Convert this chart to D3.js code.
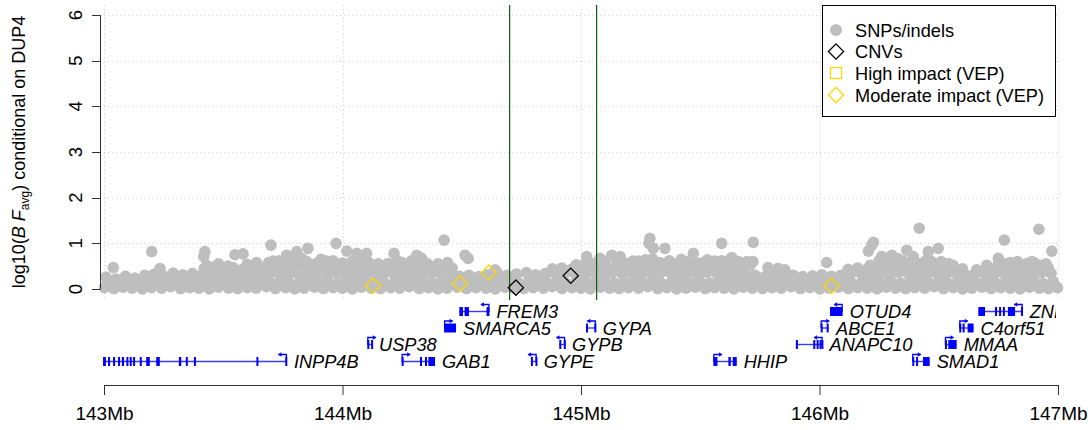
<!DOCTYPE html>
<html>
<head>
<meta charset="utf-8">
<script src="https://cdn.jsdelivr.net/npm/d3@7"></script>
<style>
  html, body { margin: 0; padding: 0; background: #fff; }
  svg { display: block; font-family: "Liberation Sans", Arial, Helvetica, sans-serif; }
</style>
</head>
<body>
<svg id="chart" width="1088" height="430"></svg>
<script>
// ---- Data -------------------------------------------------------------
// x positions in Mb (chr4), y = log10(BF_avg) conditional on DUP4

// dense low-lying SNPs/indels (position Mb, log10 BF)
const snpBand = [
  [143.002,0.03],[143.041,0.01],[143.080,0.04],[143.118,0.02],[143.161,0.00],[143.199,0.03],[143.242,0.02],[143.279,0.05],
  [143.321,0.01],[143.360,0.03],[143.398,0.02],[143.441,0.00],[143.479,0.04],[143.522,0.02],[143.560,0.01],[143.601,0.03],
  [143.638,0.02],[143.681,0.05],[143.719,0.01],[143.762,0.03],[143.800,0.00],[143.839,0.02],[143.882,0.04],[143.920,0.01],
  [143.961,0.03],[144.000,0.02],[144.041,0.00],[144.079,0.04],[144.121,0.02],[144.160,0.01],[144.202,0.03],[144.240,0.02],
  [144.279,0.05],[144.322,0.01],[144.361,0.03],[144.400,0.00],[144.438,0.02],[144.481,0.04],[144.520,0.01],[144.559,0.03],
  [144.602,0.02],[144.640,0.00],[144.681,0.04],[144.719,0.02],[144.760,0.01],[144.800,0.03],[144.842,0.02],[144.879,0.05],
  [144.920,0.01],[144.962,0.03],[145.000,0.02],[145.039,0.00],[145.081,0.04],[145.120,0.02],[145.160,0.01],[145.199,0.03],
  [145.241,0.02],[145.280,0.05],[145.322,0.01],[145.360,0.03],[145.401,0.00],[145.440,0.02],[145.479,0.04],[145.521,0.01],
  [145.560,0.03],[145.600,0.02],[145.641,0.00],[145.680,0.04],[145.719,0.02],[145.761,0.01],[145.800,0.03],[145.839,0.02],
  [145.881,0.05],[145.920,0.01],[145.960,0.03],[146.001,0.00],[146.040,0.02],[146.079,0.04],[146.121,0.01],[146.160,0.03],
  [146.200,0.02],[146.241,0.00],[146.280,0.04],[146.319,0.02],[146.361,0.01],[146.400,0.03],[146.441,0.02],[146.480,0.05],
  [146.520,0.01],[146.561,0.03],[146.600,0.00],[146.639,0.02],[146.681,0.04],[146.720,0.01],[146.760,0.03],[146.800,0.02],
  [146.841,0.00],[146.880,0.04],[146.921,0.02],[146.960,0.01],[146.998,0.03],

  [143.021,0.14],[143.060,0.18],[143.099,0.12],[143.140,0.16],[143.181,0.19],[143.219,0.13],[143.260,0.17],[143.300,0.15],
  [143.341,0.18],[143.380,0.12],[143.419,0.16],[143.460,0.19],[143.501,0.14],[143.540,0.17],[143.579,0.13],[143.620,0.16],
  [143.661,0.19],[143.700,0.14],[143.739,0.17],[143.780,0.12],[143.821,0.16],[143.860,0.18],[143.899,0.14],[143.940,0.17],
  [143.981,0.13],[144.020,0.16],[144.059,0.19],[144.100,0.14],[144.141,0.17],[144.180,0.12],[144.219,0.16],[144.260,0.18],
  [144.301,0.14],[144.340,0.17],[144.379,0.13],[144.420,0.16],[144.461,0.19],[144.500,0.14],[144.539,0.12],[144.580,0.16],
  [144.621,0.18],[144.660,0.14],[144.699,0.17],[144.740,0.13],[144.781,0.16],[144.820,0.19],[144.859,0.14],[144.900,0.17],
  [144.941,0.12],[144.980,0.16],[145.019,0.18],[145.060,0.14],[145.101,0.17],[145.140,0.13],[145.179,0.16],[145.220,0.19],
  [145.261,0.14],[145.300,0.17],[145.339,0.12],[145.380,0.16],[145.421,0.18],[145.460,0.14],[145.499,0.17],[145.540,0.13],
  [145.581,0.16],[145.620,0.19],[145.659,0.14],[145.700,0.17],[145.741,0.12],[145.780,0.16],[145.819,0.18],[145.860,0.14],
  [145.901,0.17],[145.940,0.13],[145.979,0.16],[146.020,0.19],[146.061,0.14],[146.100,0.17],[146.139,0.12],[146.180,0.16],
  [146.221,0.18],[146.260,0.14],[146.299,0.17],[146.340,0.13],[146.381,0.16],[146.420,0.19],[146.459,0.14],[146.500,0.17],
  [146.541,0.12],[146.580,0.16],[146.619,0.18],[146.660,0.14],[146.701,0.17],[146.740,0.13],[146.779,0.16],[146.820,0.19],
  [146.861,0.14],[146.900,0.17],[146.939,0.12],[146.980,0.16],

  [143.008,0.26],[143.050,0.22],[143.090,0.28],[143.130,0.24],[143.171,0.30],[143.210,0.32],[143.250,0.29],[143.290,0.35],
  [143.330,0.31],[143.371,0.34],[143.410,0.30],[143.450,0.33],[143.490,0.36],[143.530,0.31],[143.571,0.34],[143.610,0.30],
  [143.650,0.35],[143.690,0.32],[143.730,0.36],[143.771,0.31],[143.810,0.34],[143.850,0.30],[143.890,0.35],[143.930,0.33],
  [143.971,0.36],[144.010,0.31],[144.050,0.34],[144.090,0.30],[144.130,0.35],[144.171,0.32],[144.210,0.36],[144.250,0.31],
  [144.290,0.34],[144.330,0.30],[144.371,0.35],[144.410,0.33],[144.450,0.36],[144.490,0.28],[144.530,0.30],[144.571,0.27],
  [144.610,0.31],[144.650,0.34],[144.690,0.30],[144.730,0.33],[144.771,0.36],[144.810,0.31],[144.850,0.34],[144.890,0.35],
  [144.930,0.33],[144.971,0.36],[145.010,0.34],[145.050,0.37],[145.090,0.33],[145.130,0.36],[145.171,0.34],[145.210,0.37],
  [145.250,0.33],[145.290,0.36],[145.330,0.34],[145.371,0.37],[145.410,0.33],[145.450,0.36],[145.490,0.34],[145.530,0.37],
  [145.571,0.33],[145.610,0.36],[145.650,0.34],[145.690,0.31],[145.730,0.30],[145.771,0.27],[145.810,0.29],[145.850,0.26],
  [145.890,0.30],[145.930,0.27],[145.971,0.29],[146.010,0.31],[146.050,0.28],[146.090,0.30],[146.130,0.33],[146.171,0.35],
  [146.210,0.34],[146.250,0.36],[146.290,0.33],[146.330,0.37],[146.371,0.34],[146.410,0.36],[146.450,0.33],[146.490,0.35],
  [146.530,0.32],[146.571,0.34],[146.610,0.31],[146.650,0.33],[146.690,0.35],[146.730,0.32],[146.771,0.36],[146.810,0.33],
  [146.850,0.35],[146.890,0.32],[146.930,0.36],[146.971,0.34],

  [143.420,0.45],[143.460,0.48],[143.500,0.44],[143.541,0.47],[143.580,0.43],[143.620,0.49],[143.660,0.46],[143.700,0.44],
  [143.741,0.48],[143.780,0.45],[143.820,0.50],[143.860,0.46],[143.900,0.49],[143.941,0.45],[143.980,0.48],[144.020,0.44],
  [144.060,0.49],[144.100,0.46],[144.141,0.43],[144.180,0.48],[144.220,0.45],[144.260,0.49],[144.300,0.46],[144.341,0.50],
  [144.380,0.47],[144.420,0.44],[144.460,0.46],[144.640,0.42],[144.880,0.44],[144.920,0.46],[144.960,0.43],[145.000,0.48],
  [145.041,0.46],[145.080,0.49],[145.120,0.45],[145.160,0.48],[145.200,0.46],[145.241,0.50],[145.280,0.47],[145.320,0.45],
  [145.360,0.49],[145.400,0.46],[145.441,0.48],[145.480,0.45],[145.520,0.49],[145.560,0.47],[145.600,0.44],[145.641,0.48],
  [145.680,0.45],[146.120,0.43],[146.160,0.46],[146.200,0.44],[146.241,0.48],[146.280,0.46],[146.320,0.49],[146.360,0.47],
  [146.400,0.50],[146.441,0.46],[146.480,0.48],[146.520,0.45],[146.560,0.47],[146.600,0.44],[146.720,0.45],[146.760,0.48],
  [146.800,0.44],[146.841,0.47],[146.880,0.45],[146.920,0.48],[146.960,0.46],

  [143.690,0.58],[143.735,0.62],[143.776,0.57],[143.850,0.60],[143.890,0.56],[143.932,0.61],[144.000,0.57],[144.080,0.59],
  [144.150,0.55],[144.250,0.58],[144.290,0.62],[144.355,0.56],[145.060,0.57],[145.100,0.60],[145.190,0.56],[145.240,0.61],
  [145.330,0.58],[145.400,0.55],[145.440,0.60],[145.500,0.57],[145.560,0.61],[145.610,0.56],[146.300,0.58],[146.350,0.61],
  [146.430,0.57],[146.470,0.60],[146.800,0.58],[146.870,0.56],

  [143.430,0.52],[143.480,0.55],[143.520,0.50],[143.600,0.54],[143.640,0.58],[143.800,0.64],[143.910,0.65],[143.960,0.62],
  [144.040,0.60],[144.110,0.58],[144.190,0.56],[144.230,0.62],[144.330,0.59],[144.400,0.55],[144.440,0.58],[144.980,0.53],
  [145.020,0.58],[145.150,0.62],[145.270,0.64],[145.300,0.66],[145.370,0.62],[145.420,0.65],[145.470,0.60],[145.530,0.64],
  [145.590,0.62],[145.660,0.60],[145.700,0.57],[146.250,0.62],[146.280,0.60],[146.330,0.66],[146.390,0.62],[146.450,0.64],
  [146.510,0.60],[146.560,0.52],[146.780,0.55],[146.830,0.60],[146.900,0.58],[146.950,0.55]
];

// SNPs/indels standing above the bulk
const snpPeaks = [
  [143.039,0.47],[143.200,0.82],[143.235,0.45],[143.423,0.82],[143.418,0.71],[143.549,0.75],[143.583,0.77],[143.700,0.96],
  [143.709,0.61],[143.766,0.74],[143.808,0.82],[143.855,0.89],[143.829,0.67],[143.973,1.00],[144.018,0.83],[144.060,0.78],
  [144.101,0.78],[144.216,0.78],[144.311,0.74],[144.332,0.67],[144.426,1.07],[144.514,0.74],[144.527,0.67],[145.289,1.11],
  [145.285,1.00],[145.303,0.89],[145.352,0.89],[145.471,0.78],[145.590,1.00],[145.632,0.69],[145.695,0.60],[145.024,0.71],
  [145.080,0.67],[145.129,0.74],[145.164,0.71],[145.218,0.61],[145.722,1.02],[145.721,0.60],[145.709,0.52],[145.784,0.47],
  [145.826,0.45],[145.855,0.42],[146.030,0.58],[146.226,1.02],[146.205,0.83],[146.219,0.96],[146.212,0.52],[146.261,0.71],
  [146.303,0.74],[146.324,0.67],[146.366,0.85],[146.393,0.71],[146.418,1.33],[146.456,0.82],[146.498,0.89],[146.540,0.56],
  [146.659,0.42],[146.701,0.52],[146.750,0.67],[146.752,0.56],[146.775,1.07],[146.841,0.52],[146.890,0.60],[146.925,0.52],
  [146.920,1.31],[146.974,0.83]
];

// copy-number variants
const cnvs = [[144.727,0.03],[144.957,0.29]];
// VEP annotated variants
const highImpact = [];
const moderateImpact = [[144.129,0.07],[144.493,0.12],[144.614,0.36],[146.051,0.07]];

// DUP4 boundaries (Mb)
const dup4Bounds = [144.698, 145.063];

const yTicks = [0, 1, 2, 3, 4, 5, 6];
const xTicks = [143, 144, 145, 146, 147];
const xTickLabels = ["143Mb", "144Mb", "145Mb", "146Mb", "147Mb"];

const legendLabels = ["SNPs/indels", "CNVs", "High impact (VEP)", "Moderate impact (VEP)"];

// gene models: start/end in Mb, strand, display row, exon blocks
const genes = [
  { name: "INPP4B", start: 142.996, end: 143.767, strand: "-", row: 3, exons: [
    [142.996,143.008],[143.017,143.024],[143.038,143.045],[143.059,143.064],[143.075,143.084],[143.094,143.098],
    [143.108,143.114],[143.122,143.129],[143.150,143.156],[143.177,143.192],[143.219,143.234],[143.314,143.324],
    [143.343,143.349],[143.377,143.384],[143.639,143.646],[143.760,143.767]] },
  { name: "USP38",   start: 144.104, end: 144.124, strand: "+", row: 2, exons: [[144.104,144.108],[144.120,144.123]] },
  { name: "GAB1",    start: 144.248, end: 144.388, strand: "+", row: 3, exons: [[144.248,144.254],[144.325,144.332],[144.346,144.353],[144.360,144.388]] },
  { name: "SMARCA5", start: 144.426, end: 144.476, strand: "+", row: 1, exons: [[144.426,144.476]] },
  { name: "FREM3",   start: 144.490, end: 144.616, strand: "-", row: 0, exons: [[144.490,144.505],[144.512,144.530],[144.604,144.616]] },
  { name: "GYPE",    start: 144.790, end: 144.814, strand: "-", row: 3, exons: [[144.790,144.793],[144.809,144.814]] },
  { name: "GYPB",    start: 144.909, end: 144.933, strand: "-", row: 2, exons: [[144.909,144.912],[144.928,144.933]] },
  { name: "GYPA",    start: 145.021, end: 145.062, strand: "-", row: 1, exons: [[145.021,145.024],[145.056,145.062]] },
  { name: "HHIP",    start: 145.555, end: 145.653, strand: "+", row: 3, exons: [[145.555,145.572],[145.618,145.628],[145.636,145.653]] },
  { name: "ANAPC10", start: 145.901, end: 146.013, strand: "-", row: 2, exons: [[145.901,145.907],[145.974,145.980],[145.988,145.993],[146.000,146.004],[146.008,146.013]] },
  { name: "ABCE1",   start: 146.005, end: 146.040, strand: "+", row: 1, exons: [[146.005,146.009],[146.030,146.033]] },
  { name: "OTUD4",   start: 146.044, end: 146.097, strand: "-", row: 0, exons: [[146.044,146.097]] },
  { name: "SMAD1",   start: 146.389, end: 146.462, strand: "+", row: 3, exons: [[146.389,146.396],[146.405,146.413],[146.434,146.462]] },
  { name: "MMAA",    start: 146.526, end: 146.575, strand: "+", row: 2, exons: [[146.526,146.533],[146.540,146.575]] },
  { name: "C4orf51", start: 146.586, end: 146.646, strand: "+", row: 1, exons: [[146.586,146.593],[146.600,146.608],[146.621,146.646]] },
  { name: "ZNF827",  start: 146.666, end: 146.852, strand: "-", row: 0, exons: [
    [146.666,146.694],[146.736,146.741],[146.753,146.758],[146.769,146.774],[146.790,146.820],[146.845,146.852]] }
];

// ---- Layout -----------------------------------------------------------
const svg = d3.select("#chart");
const x = d3.scaleLinear().domain([143, 147]).range([104, 1058]);
const y = d3.scaleLinear().domain([0, 6]).range([289, 15]);
const plotTop = 5, plotBottom = 300;
const rowY = d3.scaleOrdinal().domain([0, 1, 2, 3]).range([311.5, 328, 344.5, 361.5]);

const GREY = "#bebebe", GOLD = "#ffd700", GENE = "#0000ff";

// clip for the association panel and the gene track
svg.append("clipPath").attr("id", "plotClip")
  .append("rect").attr("x", 90).attr("y", plotTop).attr("width", 975).attr("height", plotBottom - plotTop);
svg.append("clipPath").attr("id", "geneClip")
  .append("rect").attr("x", 90).attr("y", plotBottom + 1).attr("width", 966).attr("height", 75);

// ---- grid -------------------------------------------------------------
const grid = svg.append("g").attr("stroke", "#d0d0d0").attr("stroke-width", 1).attr("stroke-dasharray", "1,3");
grid.selectAll("line.h").data(yTicks).join("line")
  .attr("x1", x(143)).attr("x2", x(147))
  .attr("y1", d => Math.round(y(d)) + 0.5).attr("y2", d => Math.round(y(d)) + 0.5);
grid.selectAll("line.v").data(xTicks).join("line")
  .attr("x1", d => Math.round(x(d)) + 0.5).attr("x2", d => Math.round(x(d)) + 0.5)
  .attr("y1", plotTop).attr("y2", plotBottom);

// ---- association points ------------------------------------------------
const pts = svg.append("g").attr("clip-path", "url(#plotClip)");
pts.selectAll("circle.band").data(snpBand).join("circle")
  .attr("cx", d => x(d[0])).attr("cy", d => y(d[1])).attr("r", 5.8).attr("fill", GREY);
pts.selectAll("circle.peak").data(snpPeaks).join("circle")
  .attr("cx", d => x(d[0])).attr("cy", d => y(d[1])).attr("r", 5.8).attr("fill", GREY);

// DUP4 boundaries
svg.append("g").selectAll("rect").data(dup4Bounds).join("rect")
  .attr("x", d => Math.round(x(d))).attr("width", 1.2)
  .attr("y", plotTop).attr("height", plotBottom - plotTop)
  .attr("fill", "#0b5d0b");

const diamond = (cx, cy, h) => `M${cx},${cy - h}L${cx + h},${cy}L${cx},${cy + h}L${cx - h},${cy}Z`;
const marks = svg.append("g").attr("fill", "none").attr("stroke-width", 1.3);
marks.selectAll("path.cnv").data(cnvs).join("path")
  .attr("d", d => diamond(x(d[0]), y(d[1]), 7.6)).attr("stroke", "#000");
marks.selectAll("path.mod").data(moderateImpact).join("path")
  .attr("d", d => diamond(x(d[0]), y(d[1]), 7.6)).attr("stroke", GOLD);
marks.selectAll("rect.high").data(highImpact).join("rect")
  .attr("x", d => x(d[0]) - 5.5).attr("y", d => y(d[1]) - 5.5).attr("width", 11).attr("height", 11).attr("stroke", GOLD);

// ---- y axis -----------------------------------------------------------
const yAxis = svg.append("g").attr("stroke", "#333");
yAxis.append("line").attr("x1", 100.5).attr("x2", 100.5).attr("y1", y(6)).attr("y2", y(0));
yAxis.selectAll("line.t").data(yTicks).join("line")
  .attr("x1", 92).attr("x2", 100.5).attr("y1", d => Math.round(y(d)) + 0.5).attr("y2", d => Math.round(y(d)) + 0.5);
svg.append("g").selectAll("text").data(yTicks).join("text")
  .attr("transform", d => `translate(82,${y(d)}) rotate(-90)`)
  .attr("text-anchor", "middle").attr("font-size", 18.5).attr("fill", "#000")
  .text(d => d);

const yTitle = svg.append("text")
  .attr("transform", `translate(25,${(y(0) + y(6)) / 2}) rotate(-90)`)
  .attr("text-anchor", "middle").attr("font-size", 18).attr("fill", "#000");
yTitle.append("tspan").text("log10(");
yTitle.append("tspan").attr("font-style", "italic").text("B F");
yTitle.append("tspan").attr("font-size", 12).attr("dy", 4).text("avg");
yTitle.append("tspan").attr("dy", -4).text(") conditional on DUP4");

// ---- legend -----------------------------------------------------------
const leg = svg.append("g");
leg.append("rect").attr("x", 822.5).attr("y", 5.5).attr("width", 233).attr("height", 111)
  .attr("fill", "#fff").attr("stroke", "#000").attr("stroke-width", 1);
const legY = [30, 51.5, 73, 95];
leg.append("circle").attr("cx", 836).attr("cy", legY[0]).attr("r", 6).attr("fill", GREY);
leg.append("path").attr("d", diamond(836, legY[1], 7.6)).attr("fill", "none").attr("stroke", "#000").attr("stroke-width", 1.3);
leg.append("rect").attr("x", 830.5).attr("y", legY[2] - 5.5).attr("width", 11).attr("height", 11)
  .attr("fill", "none").attr("stroke", GOLD).attr("stroke-width", 1.3);
leg.append("path").attr("d", diamond(836, legY[3], 7.6)).attr("fill", "none").attr("stroke", GOLD).attr("stroke-width", 1.3);
leg.selectAll("text").data(legendLabels).join("text")
  .attr("x", 855).attr("y", (d, i) => legY[i]).attr("dy", "0.36em")
  .attr("font-size", 18.2).attr("fill", "#000").text(d => d);

// ---- gene track -------------------------------------------------------
const gt = svg.append("g").attr("clip-path", "url(#geneClip)");
const gg = gt.selectAll("g.gene").data(genes).join("g");
gg.append("line")
  .attr("x1", d => x(d.start)).attr("x2", d => x(d.end))
  .attr("y1", d => rowY(d.row)).attr("y2", d => rowY(d.row))
  .attr("stroke", "#3a3aff").attr("stroke-width", 1.4);
gg.selectAll("rect").data(d => d.exons.map(e => ({ e, row: d.row }))).join("rect")
  .attr("x", d => x(d.e[0]))
  .attr("width", d => Math.max(2, x(d.e[1]) - x(d.e[0])))
  .attr("y", d => rowY(d.row) - 4.5).attr("height", 9)
  .attr("fill", GENE);
// transcription start arrows
gg.append("path")
  .attr("d", d => {
    const cy = rowY(d.row);
    if (d.strand === "+") {
      const sx = x(d.start) + 0.5;
      return `M${sx},${cy}V${cy - 7}H${sx + 8}`;
    }
    const sx = x(d.end) - 0.5;
    return `M${sx},${cy}V${cy - 7}H${sx - 8}`;
  })
  .attr("fill", "none").attr("stroke", GENE).attr("stroke-width", 1.3);
gg.append("path")
  .attr("d", d => {
    const cy = rowY(d.row) - 7;
    if (d.strand === "+") {
      const tx = x(d.start) + 9;
      return `M${tx},${cy}L${tx - 3.5},${cy - 2.3}L${tx - 3.5},${cy + 2.3}Z`;
    }
    const tx = x(d.end) - 9;
    return `M${tx},${cy}L${tx + 3.5},${cy - 2.3}L${tx + 3.5},${cy + 2.3}Z`;
  })
  .attr("fill", GENE);
gg.append("text")
  .attr("x", d => x(d.end) + 7).attr("y", d => rowY(d.row)).attr("dy", "0.36em")
  .attr("font-size", 18.2).attr("font-style", "italic").attr("fill", "#000")
  .text(d => d.name);

// ---- x axis -----------------------------------------------------------
const xAxis = svg.append("g").attr("transform", "translate(0,385)");
xAxis.call(d3.axisBottom(x).tickValues(xTicks).tickSize(10).tickPadding(12).tickFormat((d, i) => xTickLabels[i]));
xAxis.select(".domain").attr("stroke", "#333");
xAxis.selectAll(".tick line").attr("stroke", "#333");
xAxis.selectAll(".tick text").attr("font-size", 19).attr("fill", "#000")
  .attr("font-family", "Liberation Sans, Arial, sans-serif");
</script>
</body>
</html>
